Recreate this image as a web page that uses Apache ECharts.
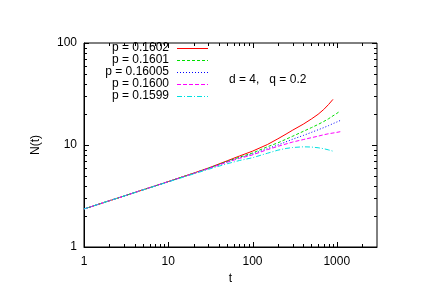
<!DOCTYPE html>
<html>
<head>
<meta charset="utf-8">
<script src="https://cdn.jsdelivr.net/npm/echarts@6/dist/echarts.min.js"></script>
<style>html,body{margin:0;padding:0;background:#fff;}#c{width:436px;height:308px;}</style>
</head>
<body>
<div id="c"></div>
<script>
// ---- data ----
var seriesNames = ['p = 0.1602', 'p = 0.1601', 'p = 0.16005', 'p = 0.1600', 'p = 0.1599'];
var tRed     = [1, 2, 5, 10, 20, 30, 50, 70, 100, 150, 200, 250, 300, 400, 500, 600, 700, 800, 900];
var nRed     = [2.36, 2.84, 3.63, 4.38, 5.3, 5.95, 7.0, 7.8, 8.7, 10.1, 11.5, 12.8, 14.0, 16.0, 18.0, 20.0, 22.3, 25.0, 28.0];
var tGreen   = [1, 2, 5, 10, 20, 30, 50, 70, 100, 150, 200, 300, 400, 500, 600, 700, 800, 900, 1000, 1050];
var nGreen   = [2.36, 2.84, 3.63, 4.37, 5.28, 5.92, 6.9, 7.6, 8.35, 9.6, 10.5, 12.2, 13.6, 14.8, 15.9, 17.0, 18.1, 19.3, 20.4, 21.0];
var tBlue    = [1, 2, 5, 10, 20, 30, 50, 70, 100, 150, 200, 300, 400, 500, 600, 700, 800, 900, 1000, 1100];
var nBlue    = [2.36, 2.84, 3.63, 4.37, 5.27, 5.9, 6.85, 7.5, 8.15, 9.2, 10.0, 11.4, 12.4, 13.3, 14.1, 14.8, 15.5, 16.2, 16.8, 17.4];
var tMagenta = [1, 2, 5, 10, 20, 30, 50, 70, 100, 150, 200, 300, 400, 500, 600, 700, 800, 900, 1000, 1100];
var nMagenta = [2.36, 2.84, 3.63, 4.37, 5.26, 5.88, 6.78, 7.4, 8.0, 9.0, 9.7, 10.7, 11.3, 11.8, 12.2, 12.6, 12.9, 13.1, 13.3, 13.5];
var tCyan    = [1, 2, 5, 10, 20, 30, 50, 70, 100, 150, 200, 250, 300, 400, 500, 600, 700, 800, 900];
var nCyan    = [2.36, 2.84, 3.62, 4.35, 5.2, 5.78, 6.55, 7.05, 7.5, 8.3, 8.9, 9.25, 9.45, 9.6, 9.55, 9.4, 9.2, 8.95, 8.7];

var xMajorTicks = [1, 10, 100, 1000];
var xMinorTicks = [2, 3, 4, 5, 6, 7, 8, 9, 20, 30, 40, 50, 60, 70, 80, 90, 200, 300, 400, 500, 600, 700, 800, 900, 2000];
var yMajorTicks = [1, 10, 100];
var yMinorTicks = [2, 3, 4, 5, 6, 7, 8, 9, 20, 30, 40, 50, 60, 70, 80, 90];
var annotation = 'd = 4,   q = 0.2';

// ---- chart ----
var FONT = 'Liberation Sans, Arial, Helvetica, sans-serif';
var colors = ['#ff0000', '#00e000', '#0000ff', '#ff00ff', '#00e0e0'];
var dashes = ['solid', [3, 2], [1, 2], [4, 2], [5, 2, 1, 2]];
var ts = [tRed, tGreen, tBlue, tMagenta, tCyan];
var ns = [nRed, nGreen, nBlue, nMagenta, nCyan];

function zip(a, b) { return a.map(function (v, i) { return [v, b[i]]; }); }

var lineSeries = seriesNames.map(function (name, i) {
  return {
    name: name, type: 'line', data: zip(ts[i], ns[i]), smooth: false,
    symbol: 'none', silent: true, animation: false,
    lineStyle: { color: colors[i], width: 1, type: dashes[i] },
    itemStyle: { color: colors[i] }
  };
});

function tickSeries(vals, isX, len) {
  return {
    type: 'custom', silent: true, animation: false, clip: false,
    data: vals.map(function (v) { return isX ? [v, 1] : [1, v]; }),
    renderItem: function (params, api) {
      var cs = params.coordSys;
      var p = api.coord([api.value(0), api.value(1)]);
      var st = { stroke: '#000', lineWidth: 1 };
      if (isX) {
        var x = Math.round(p[0]) + 0.5;
        return { type: 'group', children: [
          { type: 'line', shape: { x1: x, y1: cs.y + cs.height, x2: x, y2: cs.y + cs.height - len }, style: st },
          { type: 'line', shape: { x1: x, y1: cs.y, x2: x, y2: cs.y + len }, style: st }
        ]};
      } else {
        var y = Math.round(p[1]) + 0.5;
        return { type: 'group', children: [
          { type: 'line', shape: { x1: cs.x, y1: y, x2: cs.x + len, y2: y }, style: st },
          { type: 'line', shape: { x1: cs.x + cs.width, y1: y, x2: cs.x + cs.width - len, y2: y }, style: st }
        ]};
      }
    }
  };
}

var series = lineSeries.concat([
  tickSeries(xMajorTicks, true, 5), tickSeries(xMinorTicks, true, 3),
  tickSeries(yMajorTicks, false, 5), tickSeries(yMinorTicks, false, 3)
]);

function fmt(v) {
  var r = Math.round(v);
  return (xMajorTicks.indexOf(r) >= 0 && Math.abs(v - r) < 1e-6 * r) ? String(r) : '';
}

// legend drawn as graphic: right-aligned text + line sample (gnuplot style)
var legendGraphics = [];
seriesNames.forEach(function (name, i) {
  var yc = 48 + i * 12;
  legendGraphics.push({
    type: 'text', x: 169, y: yc,
    style: { text: name, fontSize: 12, fill: '#000', fontFamily: FONT, textAlign: 'right', textVerticalAlign: 'middle' }
  });
  legendGraphics.push({
    type: 'line', shape: { x1: 177, y1: yc + 0.5, x2: 208, y2: yc + 0.5 },
    style: { stroke: colors[i], lineWidth: 1, lineDash: dashes[i] === 'solid' ? null : dashes[i] }
  });
});
legendGraphics.push({
  type: 'text', x: 229, y: 80,
  style: { text: annotation, fontSize: 12, fill: '#000', fontFamily: FONT, textVerticalAlign: 'middle' }
});

var chart = echarts.init(document.getElementById('c'), null, { renderer: 'canvas' });
chart.setOption({
  animation: false,
  backgroundColor: '#fff',
  textStyle: { fontFamily: FONT },
  grid: { left: 84, right: 59, top: 43, bottom: 61, show: true, borderColor: '#000', borderWidth: 1, backgroundColor: 'transparent' },
  xAxis: {
    type: 'log', logBase: 10, min: 1, max: 3000,
    name: 't', nameLocation: 'middle', nameGap: 21,
    nameTextStyle: { fontSize: 12, color: '#000', fontFamily: FONT },
    axisLine: { show: true, lineStyle: { color: '#000' } },
    axisTick: { show: false }, minorTick: { show: false }, splitLine: { show: false },
    axisLabel: { formatter: fmt, color: '#000', fontSize: 12, margin: 9, fontFamily: FONT, showMaxLabel: false }
  },
  yAxis: {
    type: 'log', logBase: 10, min: 1, max: 100,
    name: 'N(t)', nameLocation: 'middle', nameGap: 42,
    nameTextStyle: { fontSize: 12, color: '#000', fontFamily: FONT },
    axisLine: { show: true, lineStyle: { color: '#000' } },
    axisTick: { show: false }, minorTick: { show: false }, splitLine: { show: false },
    axisLabel: { formatter: fmt, color: '#000', fontSize: 12, margin: 7, fontFamily: FONT }
  },
  graphic: legendGraphics,
  series: series
});
</script>
</body>
</html>
